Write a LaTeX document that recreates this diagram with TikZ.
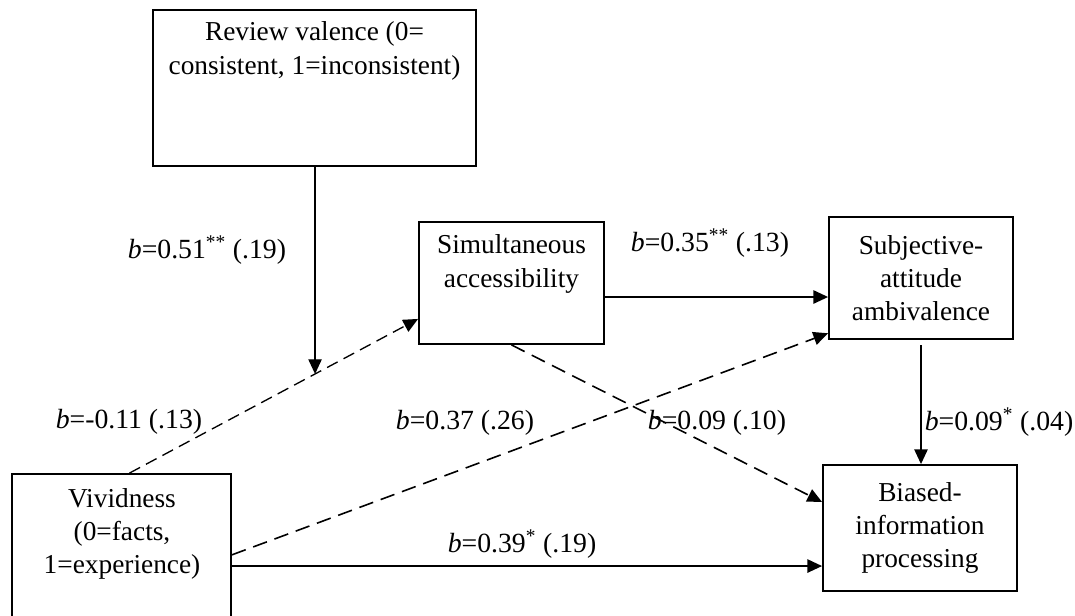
\documentclass[tikz,border=0pt]{standalone}
\usepackage{fontspec}
\setmainfont{Liberation Serif}
\usetikzlibrary{arrows.meta,calc}

\begin{document}
\begin{tikzpicture}[x = 0.75pt, y = -0.75pt, line width = 1.2pt,
		box/.style = {rectangle, draw, line width = 1.4pt, inner sep = 0pt},
		txt/.style = {align = center, font = \fontsize{20.5}{25}\selectfont, inner sep = 0pt},
		coef/.style = {font = \fontsize{20.8}{25}\selectfont, inner sep = 0pt},
		arr/.style = {-{Triangle[length = 11pt, width = 10pt]}},
		dasharr/.style = {arr, dash pattern = on 11pt off 6pt}]
		
		\useasboundingbox (0,0) rectangle (1075,615);
		
		% variables
		\node [box, minimum width = 242.25pt, minimum height = 117pt] (rv) at (314.5,88) {};
		\node [box, minimum width = 138.75pt, minimum height = 91.5pt] (sim) at (511.5,283) {};
		\node [box, minimum width = 138pt, minimum height = 91.5pt, txt] (subj) at (921,278) {Subjective-\\attitude\\ambivalence};
		\node [box, minimum width = 164.25pt, minimum height = 113.25pt] (viv) at (121.5,549.5) {};
		\node [box, minimum width = 145.5pt, minimum height = 94.5pt, txt] (bias) at (920,528) {Biased-\\information\\processing};
		
		\node [txt] (rv text) at (314.5,51) {Review valence (0=\\consistent, 1=inconsistent)};
		\node [txt] (sim text) at (511.5,264) {Simultaneous\\accessibility};
		\node [txt] (viv text) at (122,534) {Vividness\\(0=facts,\\1=experience)};
		
		% paths
		\coordinate (viv top) at ([xshift = 6pt]viv.north);
		\coordinate (sim in) at ([yshift = 19.5pt]sim.south west);
		\coordinate (mid) at ($(viv top)!0.643!(sim in)$);
		
		\draw [dasharr, line width = 1pt, dash pattern = on 9pt off 5pt] (viv top) -- (sim in);
		\draw [arr, line width = 1pt] (rv.south -| mid) -- (mid);
		\draw [arr] ([yshift = -10.5pt]sim.east) -- ([yshift = -10.5pt]sim.east -| subj.west);
		\draw [dasharr] ([yshift = -4pt]viv.east) -- ([yshift = 5pt]subj.south west);
		\draw [dasharr] (sim.south) -- ([yshift = 19.5pt]bias.west);
		\draw [arr, line width = 1pt] ([yshift = -4pt]subj.south) -- (subj.south |- bias.north);
		\draw [arr] ([yshift = -12.4pt]viv.east) -- ([yshift = -12.4pt]viv.east -| bias.west);
		
		% coefficients
		\node [coef] (c51) at (207,250) {\textit{b}=0.51\textsuperscript{**} (.19)};
		\node [coef] (c11) at (129,422) {\textit{b}=-0.11 (.13)};
		\node [coef] (c35) at (710,243) {\textit{b}=0.35\textsuperscript{**} (.13)};
		\node [coef] (c37) at (465,423) {\textit{b}=0.37 (.26)};
		\node [coef] (c09) at (717,423) {\textit{b}=0.09 (.10)};
		\node [coef] (c04) at (999,422) {\textit{b}=0.09\textsuperscript{*} (.04)};
		\node [coef] (c39) at (522,544) {\textit{b}=0.39\textsuperscript{*} (.19)};
		
		\end{tikzpicture}
\end{document}
